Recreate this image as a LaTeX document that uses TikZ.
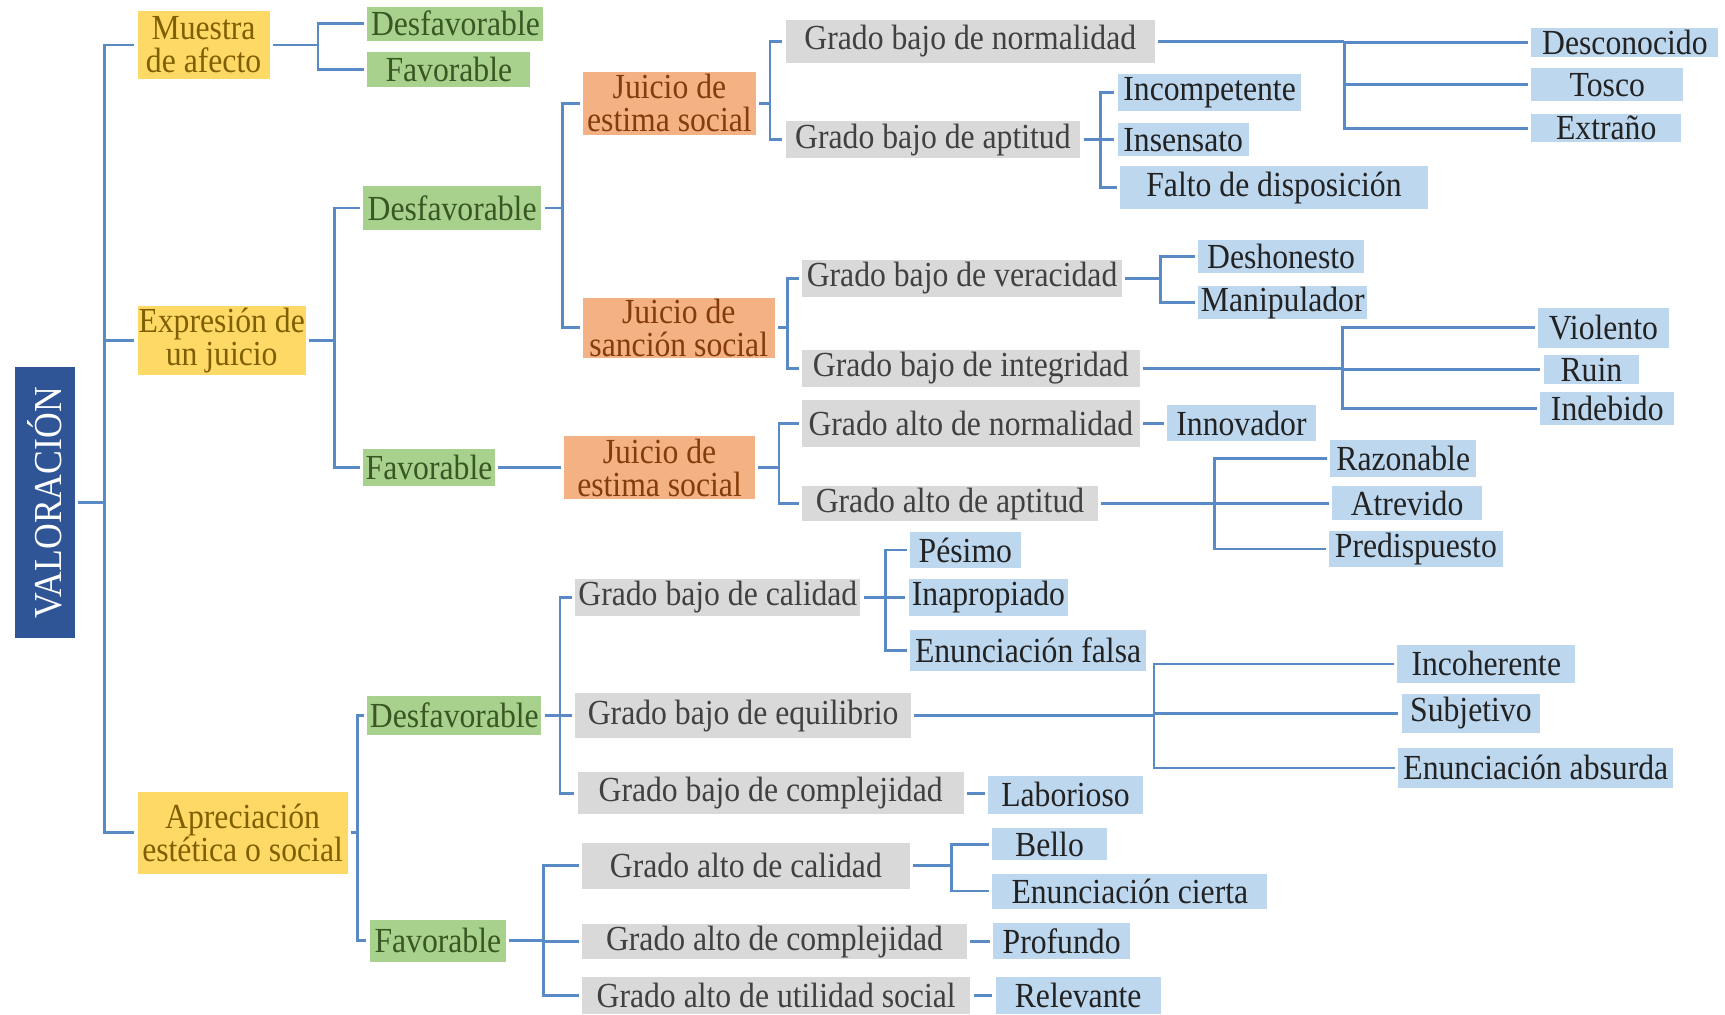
\documentclass[tikz,border=0pt]{standalone}
\usepackage{fontspec}
\setmainfont[FakeStretch=0.9]{Liberation Serif}
\definecolor{rootblue}{HTML}{2F5597}
\definecolor{catyellow}{HTML}{FFD966}
\definecolor{cattext}{HTML}{7F6000}
\definecolor{polgreen}{HTML}{A9D18E}
\definecolor{poltext}{HTML}{385723}
\definecolor{juiorange}{HTML}{F4B183}
\definecolor{juitext}{HTML}{843C0C}
\definecolor{gragrey}{HTML}{D9D9D9}
\definecolor{gratext}{HTML}{404040}
\definecolor{leafblue}{HTML}{BDD7EE}
\definecolor{leaftext}{HTML}{222222}
\definecolor{linkblue}{HTML}{5A8AC6}
% box: style, name, x-left, x-right, y-top, y-bottom, text
\newcommand\bx[7]{\node[#1,minimum width={(#4-#3)*1pt},minimum height={(#6-#5)*1pt}] (#2) at ({(#3+#4)/2},{(#5+#6)/2}) {#7};}
\begin{document}
\begin{tikzpicture}[x=1pt,y=-1pt,
  box/.style={inner sep=0pt,outer xsep=3pt,outer ysep=0pt,align=center,font=\fontsize{32}{30}\selectfont},
  root/.style={box,fill=rootblue,text=white,font=\fontsize{36}{36}\selectfont},
  cat/.style={box,fill=catyellow,text=cattext},
  pol/.style={box,fill=polgreen,text=poltext},
  jui/.style={box,fill=juiorange,text=juitext},
  gra/.style={box,fill=gragrey,text=gratext},
  leaf/.style={box,fill=leafblue,text=leaftext},
  conn/.style={draw=linkblue,line width=2.5pt}]
\fill[white] (0,0) rectangle (1568,922);
\useasboundingbox (0,0) rectangle (1568,922);

% root and first level
\bx{root}{val}{14}{68}{334}{580}{\rotatebox{90}{VALORACIÓN}}
\bx{cat}{mue}{125}{245}{10}{72}{Muestra\\de afecto}
\bx{cat}{exp}{125}{278}{278}{341}{Expresión de\\un juicio}
\bx{cat}{apr}{125}{316}{720}{794}{Apreciación\\estética o social}

% polarity
\bx{pol}{mdes}{334}{494}{6}{37}{Desfavorable}
\bx{pol}{mfav}{334}{482}{47}{79}{Favorable}
\bx{pol}{edes}{330}{492}{169}{209}{Desfavorable}
\bx{pol}{efav}{330}{450}{408}{442}{Favorable}
\bx{pol}{ades}{334}{492}{633}{668}{Desfavorable}
\bx{pol}{afav}{336}{460}{836}{874}{Favorable}

% judgement kinds
\bx{jui}{jes1}{530}{687}{65}{123}{Juicio de\\estima social}
\bx{jui}{jsa}{530}{704}{271}{325}{Juicio de\\sanción social}
\bx{jui}{jes2}{513}{686}{396}{454}{Juicio de\\estima social}

% degrees
\bx{gra}{gbn}{714}{1050}{18}{57}{Grado bajo de normalidad}
\bx{gra}{gba}{714}{982}{110}{144}{Grado bajo de aptitud}
\bx{gra}{gbv}{729}{1020}{236}{270}{Grado bajo de veracidad}
\bx{gra}{gbi}{729}{1036}{318}{352}{Grado bajo de integridad}
\bx{gra}{gan}{729}{1036}{364}{406}{Grado alto de normalidad}
\bx{gra}{gaa}{729}{998}{442}{474}{Grado alto de aptitud}
\bx{gra}{gbc}{523}{782}{526}{560}{Grado bajo de calidad}
\bx{gra}{gbe}{523}{828}{630}{671}{Grado bajo de equilibrio}
\bx{gra}{gbx}{525}{876}{702}{740}{Grado bajo de complejidad}
\bx{gra}{gac}{529}{827}{766}{808}{Grado alto de calidad}
\bx{gra}{gax}{529}{879}{840}{872}{Grado alto de complejidad}
\bx{gra}{gau}{529}{882}{888}{922}{Grado alto de utilidad social}

% qualities
\bx{leaf}{desc}{1392}{1562}{25}{52}{Desconocido}
\bx{leaf}{tosc}{1392}{1530}{62}{92}{Tosco}
\bx{leaf}{extr}{1392}{1528}{104}{129}{Extraño}
\bx{leaf}{inco}{1016}{1183}{67}{101}{Incompetente}
\bx{leaf}{inse}{1016}{1135}{112}{142}{Insensato}
\bx{leaf}{falt}{1018}{1298}{151}{190}{Falto de disposición}
\bx{leaf}{desh}{1089}{1240}{218}{248}{Deshonesto}
\bx{leaf}{mani}{1089}{1243}{260}{290}{Manipulador}
\bx{leaf}{viol}{1398}{1517}{280}{316}{Violento}
\bx{leaf}{ruin}{1403}{1490}{323}{349}{Ruin}
\bx{leaf}{inde}{1400}{1522}{356}{386}{Indebido}
\bx{leaf}{inno}{1061}{1196}{368}{401}{Innovador}
\bx{leaf}{razo}{1209}{1342}{400}{434}{Razonable}
\bx{leaf}{atre}{1211}{1347}{442}{473}{Atrevido}
\bx{leaf}{pred}{1208}{1366}{483}{515}{Predispuesto}
\bx{leaf}{pesi}{827}{928}{484}{516}{Pésimo}
\bx{leaf}{inap}{826}{971}{526}{560}{Inapropiado}
\bx{leaf}{enfa}{827}{1042}{573}{610}{Enunciación falsa}
\bx{leaf}{ichr}{1270}{1432}{586}{621}{Incoherente}
\bx{leaf}{subj}{1274}{1400}{631}{666}{Subjetivo}
\bx{leaf}{enab}{1271}{1521}{680}{716}{Enunciación absurda}
\bx{leaf}{labo}{898}{1039}{705}{740}{Laborioso}
\bx{leaf}{bell}{902}{1006}{753}{782}{Bello}
\bx{leaf}{ence}{902}{1152}{794}{826}{Enunciación cierta}
\bx{leaf}{prof}{903}{1027}{839}{872}{Profundo}
\bx{leaf}{rele}{905}{1055}{888}{922}{Relevante}

% fork positions
\coordinate (k0) at (95,0);
\coordinate (kmue) at (289,0);
\coordinate (kexp) at (304,0);
\coordinate (kapr) at (325,0);
\coordinate (kedes) at (511,0);
\coordinate (kades) at (509,0);
\coordinate (kafav) at (494,0);
\coordinate (kjes1) at (700,0);
\coordinate (kjsa) at (716,0);
\coordinate (kjes2) at (708,0);
\coordinate (kgbn) at (1222,0);
\coordinate (kgba) at (1000,0);
\coordinate (kgbv) at (1055,0);
\coordinate (kgbi) at (1220,0);
\coordinate (kgaa) at (1104,0);
\coordinate (kgbc) at (805,0);
\coordinate (kgbe) at (1049,0);
\coordinate (kgac) at (865,0);

% connectors: parent, fork, children
\foreach \p/\k/\cs in {val/k0/{mue,exp,apr},
    mue/kmue/{mdes,mfav}, exp/kexp/{edes,efav}, apr/kapr/{ades,afav},
    edes/kedes/{jes1,jsa}, ades/kades/{gbc,gbe,gbx}, afav/kafav/{gac,gax,gau},
    jes1/kjes1/{gbn,gba}, jsa/kjsa/{gbv,gbi}, jes2/kjes2/{gan,gaa},
    gbn/kgbn/{desc,tosc,extr}, gba/kgba/{inco,inse,falt}, gbv/kgbv/{desh,mani},
    gbi/kgbi/{viol,ruin,inde}, gaa/kgaa/{razo,atre,pred},
    gbc/kgbc/{pesi,inap,enfa}, gbe/kgbe/{ichr,subj,enab}, gac/kgac/{bell,ence}}{
  \draw[conn] (\p.east) -- (\p.east -| \k);
  \foreach \c in \cs {\draw[conn] (\p.east -| \k) |- (\c.west);}
}

% single links
\foreach \p/\c in {efav/jes2, gan/inno, gbx/labo, gax/prof, gau/rele}{
  \draw[conn] (\p.east) -- (\p.east -| \c.west);
}
\end{tikzpicture}
\end{document}
